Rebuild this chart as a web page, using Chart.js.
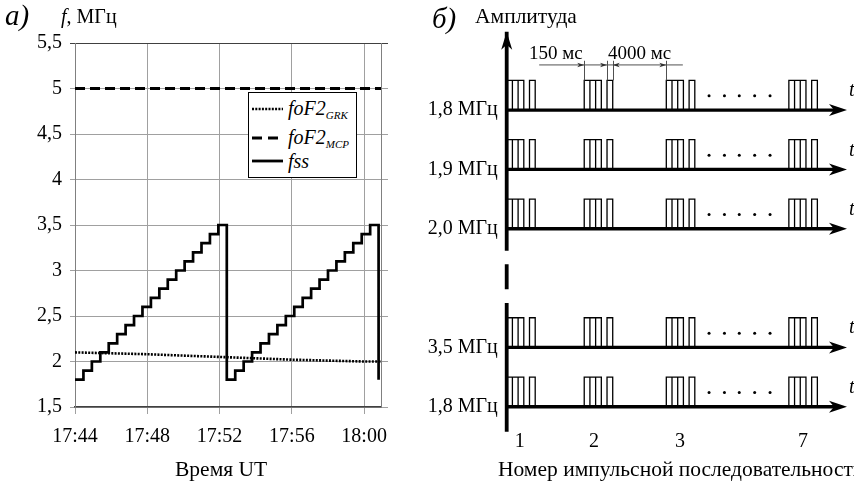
<!DOCTYPE html>
<html>
<head>
<meta charset="utf-8">
<script src="https://cdn.jsdelivr.net/npm/chart.js@4.4.1/dist/chart.umd.min.js"></script>
<style>
html, body { margin: 0; padding: 0; background: #fff; }
body { width: 854px; height: 481px; position: relative; overflow: hidden; font-family: 'Liberation Serif', Tinos, 'Times New Roman', 'DejaVu Serif', serif; color: #000; }
canvas { position: absolute; top: 0; }
#chartA { left: 0; }
#chartB { left: 400px; }
.lbl { position: absolute; white-space: nowrap; line-height: 1; font-size: 20px; z-index: 2; }
.ttl { font-size: 21.5px; }
.it { font-style: italic; }
.big { font-size: 29px; font-style: italic; }
.dim { font-size: 19px; }
#legend { position: absolute; left: 248px; top: 92px; width: 107px; height: 84px; border: 1px solid #000; background: #fff; z-index: 2; }
#legend .row { position: absolute; left: 3px; height: 24px; display: flex; align-items: center; }
#legend svg { margin-right: 5px; }
#legend sub { font-size: 11px; vertical-align: -4px; font-style: italic; }
</style>
</head>
<body>
<canvas id="chartA" width="430" height="481"></canvas>
<canvas id="chartB" width="454" height="481"></canvas>

<div class="lbl big" style="left:5px; top:1px;">а)</div>
<div class="lbl" style="left:61px; top:6px;"><span class="it">f</span>, МГц</div>
<div class="lbl ttl" style="left:175px; top:459px;">Время UT</div>

<div id="legend">
  <div class="row" style="top:4px;"><svg width="31" height="6"><line x1="0" y1="3" x2="31" y2="3" stroke="#000" stroke-width="2.6" stroke-dasharray="2 1.3"/></svg><span class="lbl it" style="position:static;">foF2<sub>GRK</sub></span></div>
  <div class="row" style="top:33px;"><svg width="31" height="6"><line x1="0" y1="3" x2="31" y2="3" stroke="#000" stroke-width="3" stroke-dasharray="10 6"/></svg><span class="lbl it" style="position:static;">foF2<sub>MCP</sub></span></div>
  <div class="row" style="top:56px;"><svg width="31" height="6"><line x1="0" y1="3" x2="31" y2="3" stroke="#000" stroke-width="2.8"/></svg><span class="lbl it" style="position:static;">fss</span></div>
</div>

<div class="lbl big" style="left:432px; top:4px;">б)</div>
<div class="lbl ttl" style="left:475px; top:6px;">Амплитуда</div>
<div class="lbl dim" style="left:529px; top:43px;">150 мс</div>
<div class="lbl dim" style="left:608px; top:43px;">4000 мс</div>
<div class="lbl it" style="left:849px; top:79px;">t</div>
<div class="lbl it" style="left:849px; top:139px;">t</div>
<div class="lbl it" style="left:849px; top:198px;">t</div>
<div class="lbl it" style="left:849px; top:316px;">t</div>
<div class="lbl it" style="left:849px; top:376px;">t</div>
<div class="lbl ttl" style="left:498px; top:459px;">Номер импульсной последовательности</div>

<script>
// ---- panel a) : seconds after 17:44:00 UT, frequency in MHz
const timeTicks = [0, 240, 480, 720, 960];
const timeLabels = ['17:44', '17:48', '17:52', '17:56', '18:00'];
const freqTicks = [1.5, 2, 2.5, 3, 3.5, 4, 4.5, 5, 5.5];

const fssSeconds = [0, 28, 56, 84, 112, 140, 168, 196, 224, 252, 280, 308, 336, 364, 392, 420, 448, 476,
                    504, 532, 560, 588, 616, 644, 672, 700, 728, 756, 784, 812, 840, 868, 896, 924, 952, 980,
                    1008];
const fssValues = [1.8, 1.9, 2.0, 2.1, 2.2, 2.3, 2.4, 2.5, 2.6, 2.7, 2.8, 2.9, 3.0, 3.1, 3.2, 3.3, 3.4, 3.5,
                   1.8, 1.9, 2.0, 2.1, 2.2, 2.3, 2.4, 2.5, 2.6, 2.7, 2.8, 2.9, 3.0, 3.1, 3.2, 3.3, 3.4, 3.5,
                   1.8];
const grkSeconds = [0, 240, 480, 720, 960, 1016];
const grkValues = [2.10, 2.08, 2.05, 2.02, 2.00, 2.00];
const mcpSeconds = [0, 1016];
const mcpValues = [5.0, 5.0];

// ---- panel б) : schematic pulse sequences
const rowLabels = ['1,8 МГц', '1,9 МГц', '2,0 МГц', '3,5 МГц', '1,8 МГц'];
const rowLevels = [0, 1, 2, 4, 5];
const pulseAmplitude = 0.5;
const pulseOn = [0, 1, 2, 4];
const pulseOff = [1, 2, 3, 5];
const groupStarts = [0, 13.6, 28.0, 49.5];
const seqLabels = ['1', '2', '3', '7'];
const seqTickTimes = [2.3, 15.3, 30.4, 52.0];
const dotTimes = [35.5, 38.2, 40.8, 43.5, 46.2];
const dotLevel = 0.24;
const axisSegments = [[-1.32, 2.37], [2.6, 3.02], [3.25, 5.42]];
const tEnd = 59.7;

Chart.defaults.font.family = "'Liberation Serif', Tinos, 'Times New Roman', 'DejaVu Serif', serif";
Chart.defaults.font.size = 20;
Chart.defaults.color = '#000';

const toXY = (xs, ys) => xs.map((x, i) => ({ x: x, y: ys[i] }));
const GRID = '#a0a0a0';

new Chart(document.getElementById('chartA'), {
    type: 'line',
    data: {
        datasets: [
            { data: toXY(fssSeconds, fssValues), stepped: 'before', borderColor: '#000', borderWidth: 2.7, pointRadius: 0 },
            { data: toXY(grkSeconds, grkValues), borderColor: '#000', borderWidth: 2.6, borderDash: [2, 1.3], pointRadius: 0 },
            { data: toXY(mcpSeconds, mcpValues), borderColor: '#000', borderWidth: 3, borderDash: [10, 5], pointRadius: 0 },
        ],
    },
    options: {
        responsive: false,
        animation: false,
        events: [],
        layout: { padding: { top: 43, right: 42, bottom: 0, left: 0 } },
        plugins: { legend: { display: false }, tooltip: { enabled: false } },
        scales: {
            x: {
                type: 'linear', min: 0, max: 1016,
                afterBuildTicks: s => { s.ticks = timeTicks.map(v => ({ value: v })); },
                afterFit: s => { s.height = 74; },
                ticks: { callback: (v, i) => timeLabels[i], padding: 11, maxRotation: 0, autoSkip: false },
                grid: { color: GRID, tickLength: 7 },
                border: { color: '#404040', width: 1.5 },
            },
            y: {
                min: 1.5, max: 5.5,
                afterBuildTicks: s => { s.ticks = freqTicks.map(v => ({ value: v })); },
                afterFit: s => { s.width = 75; },
                ticks: { callback: v => String(v).replace('.', ','), padding: 8 },
                grid: { color: c => (c.tick && c.tick.value === 5.5 ? '#404040' : GRID), tickLength: 5 },
                border: { color: '#808080' },
            },
            y2: {
                position: 'right', min: 1.5, max: 5.5,
                afterBuildTicks: s => { s.ticks = freqTicks.map(v => ({ value: v })); },
                afterFit: s => { s.width = 7; },
                ticks: { display: false },
                grid: { drawOnChartArea: false, color: c => (c.tick && c.tick.value === 5.5 ? '#404040' : GRID), tickLength: 7 },
                border: { color: '#808080' },
            },
        },
    },
});

function arrowHead(ctx, tx, ty, dx, dy, len, half) {
    const bx = tx - dx * len, by = ty - dy * len;
    const nx = -dy, ny = dx;
    ctx.beginPath();
    ctx.moveTo(tx, ty);
    ctx.lineTo(bx + nx * half, by + ny * half);
    ctx.lineTo(tx - dx * len * 0.72, ty - dy * len * 0.72);
    ctx.lineTo(bx - nx * half, by - ny * half);
    ctx.closePath();
    ctx.fill();
}

const schemePlugin = {
    id: 'scheme',
    afterDatasetsDraw(chart) {
        const { ctx } = chart;
        const x = chart.scales.x, y = chart.scales.y;
        ctx.save();
        ctx.fillStyle = '#000';
        arrowHead(ctx, x.getPixelForValue(0), y.getPixelForValue(axisSegments[0][0]), 0, -1, 18, 5.5);
        rowLevels.forEach(level => {
            arrowHead(ctx, x.getPixelForValue(tEnd), y.getPixelForValue(level), 1, 0, 18, 6);
        });

        // dimension lines over the second group
        const g = groupStarts[1];
        const marks = [g, g + pulseOn[3], g + pulseOff[3], groupStarts[2]];
        const dirs = [1, 1, -1, 1];
        const lineY = y.getPixelForValue(rowLevels[0] - 0.76);
        const extTop = y.getPixelForValue(rowLevels[0] - 0.83);
        const extBot = y.getPixelForValue(rowLevels[0] - pulseAmplitude);
        ctx.strokeStyle = '#505050';
        ctx.fillStyle = '#303030';
        ctx.lineWidth = 1;
        ctx.beginPath();
        ctx.moveTo(x.getPixelForValue(5.7), lineY);
        ctx.lineTo(x.getPixelForValue(30.9), lineY);
        marks.forEach(m => {
            const px = Math.round(x.getPixelForValue(m)) + 0.5;
            ctx.moveTo(px, extTop);
            ctx.lineTo(px, extBot);
        });
        ctx.stroke();
        marks.forEach((m, i) => arrowHead(ctx, x.getPixelForValue(m), lineY, dirs[i], 0, 7, 2.3));
        ctx.restore();
    },
};

const pulseSets = rowLevels.map(level => {
    const pts = [{ x: 0, y: level }];
    groupStarts.forEach(g => {
        pulseOn.forEach((on, k) => {
            const off = pulseOff[k];
            pts.push({ x: g + on, y: level }, { x: g + on, y: level - pulseAmplitude },
                     { x: g + off, y: level - pulseAmplitude }, { x: g + off, y: level });
        });
    });
    return { data: pts, borderColor: '#000', borderWidth: 1.3, pointRadius: 0, clip: false, borderJoinStyle: 'miter' };
});
const baseSets = rowLevels.map(level => ({
    data: [{ x: 0, y: level }, { x: tEnd - 1.5, y: level }],
    borderColor: '#000', borderWidth: 3.3, pointRadius: 0, clip: false,
}));
const dotSet = {
    data: rowLevels.flatMap(level => dotTimes.map(t => ({ x: t, y: level - dotLevel }))),
    showLine: false, pointRadius: 1.5, pointBackgroundColor: '#000', pointBorderWidth: 0, clip: false,
};
const axisSet = {
    data: axisSegments.flatMap(([a, b]) => [{ x: 0, y: a }, { x: 0, y: b }, { x: 0, y: null }]),
    borderColor: '#000', borderWidth: 3.8, pointRadius: 0, clip: false, spanGaps: false,
};

new Chart(document.getElementById('chartB'), {
    type: 'line',
    data: { datasets: [axisSet, ...baseSets, ...pulseSets, dotSet] },
    options: {
        responsive: false,
        animation: false,
        events: [],
        layout: { padding: { top: 31.7, right: 7, bottom: 0, left: 0 } },
        plugins: { legend: { display: false }, tooltip: { enabled: false } },
        scales: {
            x: {
                type: 'linear', min: 0, max: tEnd,
                afterBuildTicks: s => { s.ticks = seqTickTimes.map(v => ({ value: v })); },
                afterFit: s => { s.height = 49.3; },
                ticks: { callback: (v, i) => seqLabels[i], padding: -10, maxRotation: 0, autoSkip: false },
                grid: { display: false },
                border: { display: false },
            },
            y: {
                type: 'linear', min: -1.32, max: 5.42, reverse: true,
                afterBuildTicks: s => { s.ticks = rowLevels.map(v => ({ value: v })); },
                afterFit: s => { s.width = 106.7; },
                ticks: { callback: (v, i) => rowLabels[i], padding: 1 },
                grid: { display: false },
                border: { display: false },
            },
        },
    },
    plugins: [schemePlugin],
});
</script>
</body>
</html>
